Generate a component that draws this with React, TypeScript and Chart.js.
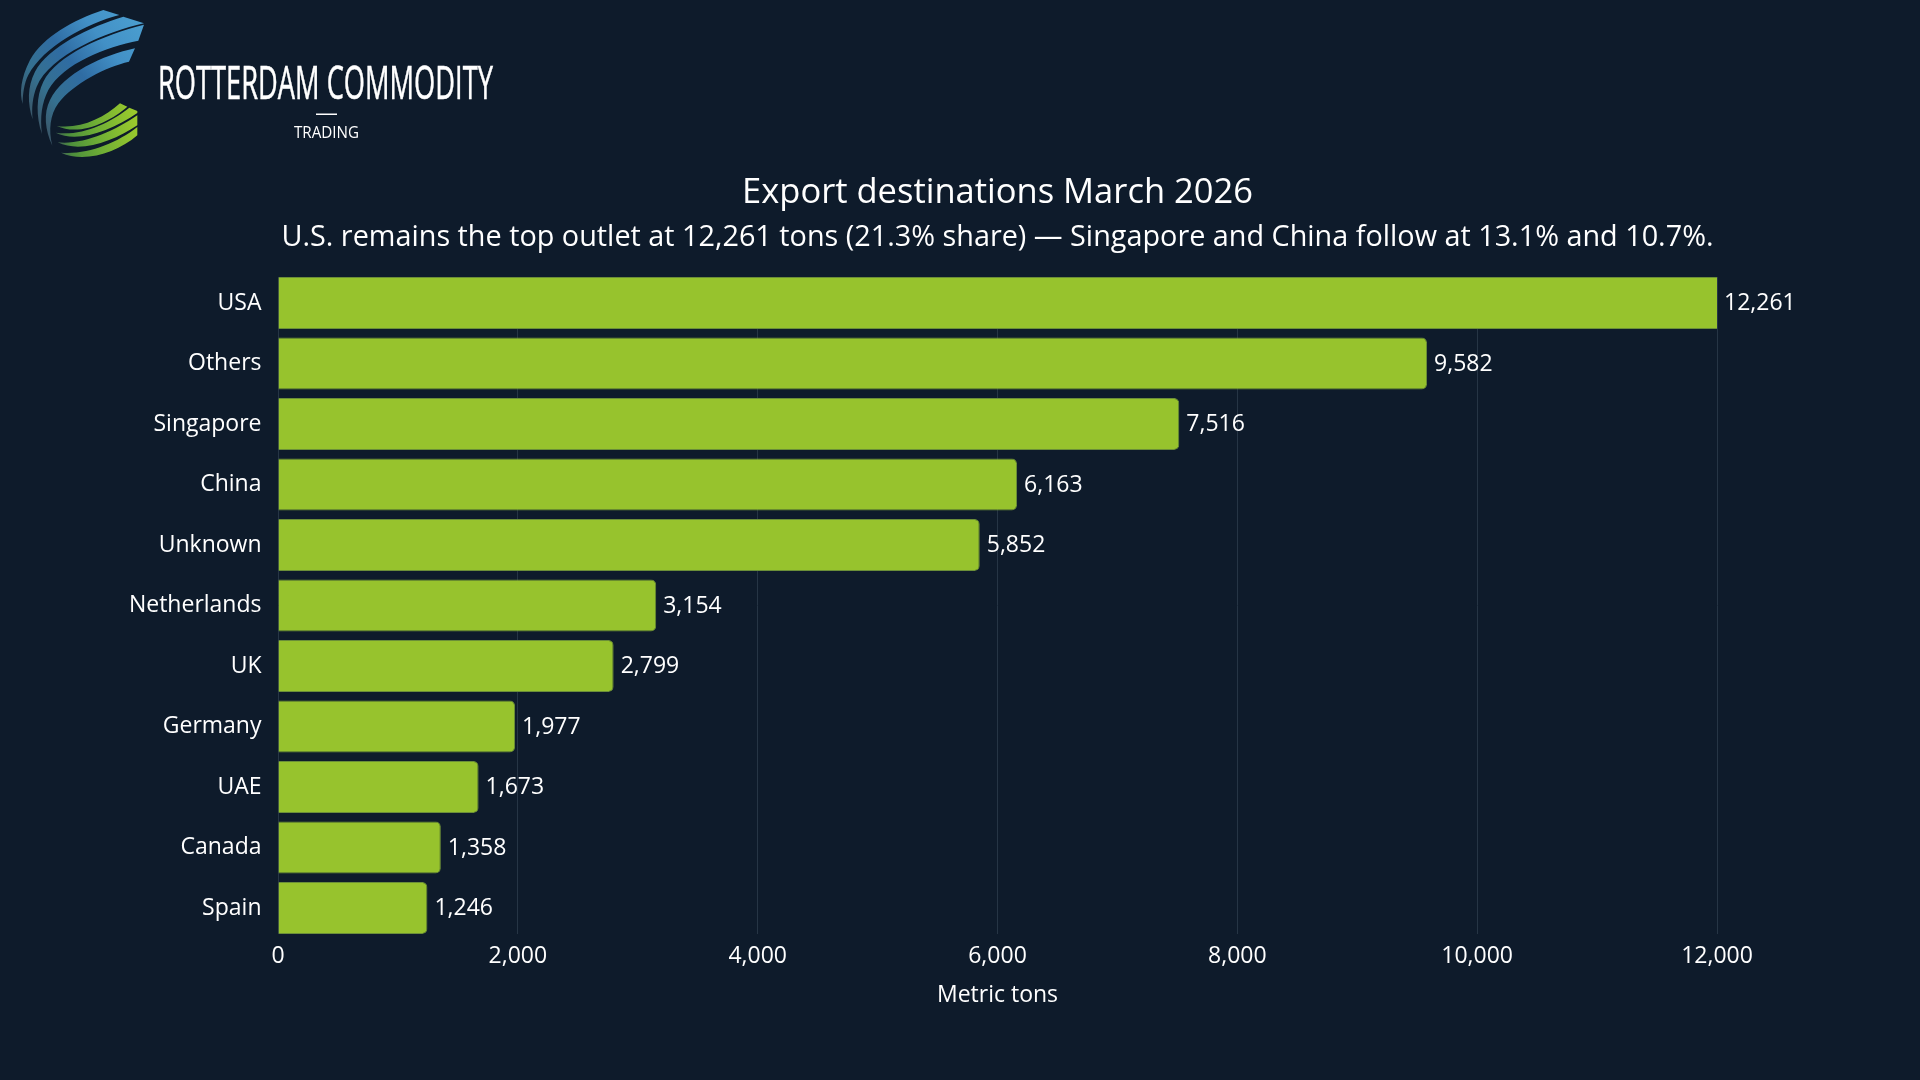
import React, { useEffect, useRef } from "react";
import { Chart, registerables } from "chart.js";

Chart.register(...registerables);

const categories = ["USA", "Others", "Singapore", "China", "Unknown", "Netherlands", "UK", "Germany", "UAE", "Canada", "Spain"];
const tons = [12261, 9582, 7516, 6163, 5852, 3154, 2799, 1977, 1673, 1358, 1246];
const titleText = "Export destinations March 2026";
const subtitleText = "U.S. remains the top outlet at 12,261 tons (21.3% share) — Singapore and China follow at 13.1% and 10.7%.";
const axisTitle = "Metric tons";
const brandName = "ROTTERDAM COMMODITY";
const brandSub = "TRADING";
const FONT = '"Open Sans"';
const BG = "#0e1b2b";

const blueBands = [
  "M280 30 L328 45 C230 70 100 140 55 225 C42 250 38 285 38 312 C28 280 32 235 60 180 C100 110 190 60 280 30 Z",
  "M340 50 L402 70 C290 95 120 165 80 260 C68 290 64 325 68 358 C52 310 52 260 75 215 C115 140 240 80 340 50 Z",
  "M402 74 L385 122 C290 140 160 190 115 270 C95 310 90 350 96 402 C78 350 78 290 100 245 C140 165 280 105 402 74 Z",
  "M375 145 L357 185 C290 200 190 250 145 310 C120 345 115 390 127 437 C105 390 100 340 120 300 C160 220 280 165 375 145 Z",
];
const greenBands = [
  "M330 310 L352 320 C300 365 210 410 140 378 C210 388 280 355 330 310 Z",
  "M358 323 L382 333 L382 339 C300 395 200 430 137 398 C210 410 300 370 358 323 Z",
  "M382 346 L382 376 C310 425 210 460 143 427 C220 435 310 395 382 346 Z",
  "M382 381 L382 406 C320 460 220 490 153 458 C230 465 320 430 382 381 Z",
];

const valueLabels = {
  id: "valueLabels",
  afterDatasetsDraw(chart: any) {
    const { ctx, chartArea, scales } = chart;
    ctx.save();
    ctx.font = `23px ${FONT}`;
    ctx.fillStyle = "#ffffff";
    ctx.textAlign = "left";
    ctx.textBaseline = "middle";
    tons.forEach((v, i) => {
      const x = Math.min(scales.x.getPixelForValue(v), chartArea.right);
      ctx.fillText(v.toLocaleString("en-US"), x + 7, scales.y.getPixelForValue(i) + 0.5);
    });
    ctx.restore();
  },
};

function Logo() {
  return (
    <svg width={520} height={170} viewBox="0 0 520 170" style={{ position: "absolute", left: 0, top: 0 }}>
      <defs>
        <linearGradient id="lb" gradientUnits="userSpaceOnUse" x1="400" y1="60" x2="50" y2="340">
          <stop offset="0" stopColor="#4b9fd0" />
          <stop offset="0.3" stopColor="#4290c6" />
          <stop offset="0.55" stopColor="#2f6ca3" />
          <stop offset="0.8" stopColor="#35708f" />
          <stop offset="1" stopColor="#3a5566" />
        </linearGradient>
        <linearGradient id="lg" gradientUnits="userSpaceOnUse" x1="382" y1="360" x2="140" y2="420">
          <stop offset="0" stopColor="#9ccb2c" />
          <stop offset="0.5" stopColor="#6fae35" />
          <stop offset="0.85" stopColor="#4d8f3c" />
          <stop offset="1" stopColor="#3f5f55" />
        </linearGradient>
      </defs>
      <g transform="translate(10 0) scale(0.3333)">
        {blueBands.map((d) => <path key={d} d={d} fill="url(#lb)" />)}
        {greenBands.map((d) => <path key={d} d={d} fill="url(#lg)" />)}
      </g>
      <text x={158} y={99} fill="#ffffff" stroke="#ffffff" strokeWidth={0.5} textLength={335} lengthAdjust="spacingAndGlyphs"
        style={{ font: '45px "Liberation Sans Narrow", "Open Sans"' }}>{brandName}</text>
      <rect x={316} y={113.5} width={21} height={1.5} fill="#ffffff" />
      <text x={294} y={138} fill="#ffffff" textLength={65} lengthAdjust="spacingAndGlyphs"
        style={{ font: '16px "Open Sans"' }}>{brandSub}</text>
    </svg>
  );
}

export default function App() {
  const ref = useRef<HTMLCanvasElement>(null);
  useEffect(() => {
    document.body.style.margin = "0";
    document.body.style.background = BG;
    const chart = new Chart(ref.current!, {
      type: "bar",
      data: {
        labels: categories,
        datasets: [{
          data: tons.map((v, i) => ({ x: v, y: i })),
          backgroundColor: "#97c32d",
          borderColor: "#6b8f38",
          borderWidth: 1,
          borderRadius: { topLeft: 0, bottomLeft: 0, topRight: 5, bottomRight: 5 },
          barPercentage: 0.86,
          categoryPercentage: 1,
        }],
      },
      plugins: [valueLabels],
      options: {
        indexAxis: "y",
        animation: false,
        responsive: false,
        layout: { padding: { left: 0, right: 203, top: 172.3, bottom: 71 } },
        plugins: {
          legend: { display: false },
          tooltip: { enabled: false },
          title: { display: true, text: titleText, color: "#ffffff", fullSize: false, font: { family: FONT, size: 34.5, weight: "400" }, padding: { top: 0, bottom: 7 } },
          subtitle: { display: true, text: subtitleText, color: "#ffffff", fullSize: false, font: { family: FONT, size: 28.8, weight: "400" }, padding: { top: 0, bottom: 21.7 } },
        },
        scales: {
          x: {
            type: "linear", min: 0, max: 12000,
            afterFit: (s: any) => { s.height = 75; },
            ticks: { stepSize: 2000, color: "#ffffff", font: { family: FONT, size: 23 }, padding: 9, maxRotation: 0, callback: (v: any) => Number(v).toLocaleString("en-US") },
            grid: { color: "#263545", lineWidth: 1, drawTicks: false },
            border: { display: false },
            title: { display: true, text: axisTitle, color: "#ffffff", font: { family: FONT, size: 23 }, padding: { top: 0, bottom: 0 } },
          },
          y: {
            type: "linear", reverse: true, min: -0.43, max: 10.43, bounds: "data", offset: false,
            afterFit: (s: any) => { s.width = 278; },
            afterBuildTicks: (s: any) => { s.ticks = categories.map((_, i) => ({ value: i })); },
            ticks: { stepSize: 1, includeBounds: false, autoSkip: false, color: "#ffffff", font: { family: FONT, size: 23 }, padding: 8.5, callback: (v: any) => categories[Number(v)] ?? "" },
            grid: { display: false, offset: false },
            border: { display: false },
          },
        },
      } as any,
    });
    return () => chart.destroy();
  }, []);
  return (
    <div style={{ position: "relative", width: 1920, height: 1080, background: BG, overflow: "hidden" }}>
      <canvas ref={ref} width={1920} height={1080} style={{ display: "block" }} />
      <Logo />
    </div>
  );
}
